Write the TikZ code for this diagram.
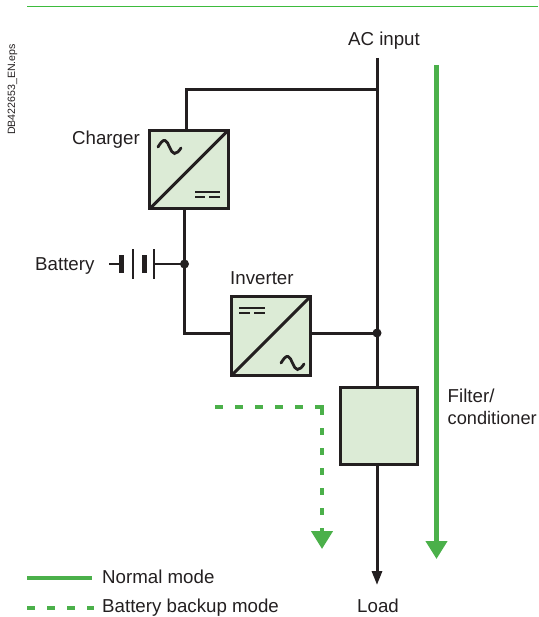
\documentclass[tikz,border=0pt]{standalone}
\usepackage{fontspec}
\setmainfont{Liberation Sans}
\usetikzlibrary{arrows.meta}
\definecolor{sgreen}{HTML}{4BB04A}
\definecolor{srule}{HTML}{3DBB3D}
\definecolor{sfill}{HTML}{DCEBD6}
\definecolor{sink}{HTML}{231F20}
\tikzset{
  conv/.style={draw=sink,fill=sfill,line width=3pt,minimum size=78.5pt,inner sep=0pt,outer sep=0pt},
  wire/.style={draw=sink,line width=3pt},
  sym/.style={draw=sink,line width=2.8pt,line cap=round},
  junction/.style={circle,fill=sink,inner sep=0pt,minimum size=9pt},
  lbl/.style={text=sink,font=\fontsize{18.7}{22}\selectfont,inner sep=0pt,anchor=base west},
  normalflow/.style={draw=sgreen,line width=4.2pt},
  backupflow/.style={draw=sgreen,line width=4.2pt},
  headgreen/.style={-{Triangle[length=18pt,width=21pt,fill=sgreen]}}
}
\begin{document}
\begin{tikzpicture}[x=1pt,y=-1pt]
\useasboundingbox (0,0) rectangle (538,617);
% coordinates
\coordinate (ruleA) at (27,6.3);
\coordinate (ruleB) at (538,6.3);
\coordinate (mainTop) at (377,58);
\coordinate (mainTee) at (377,90);
\coordinate (chgTeeTop) at (186,90);
\coordinate (chgTop) at (186,130);
\coordinate (chgBot) at (184.5,209);
\coordinate (invCorner) at (184.5,333);
\coordinate (invIn) at (231,333);
\coordinate (invOut) at (311,333);
\coordinate (filtTop) at (377,387);
\coordinate (filtBot) at (377,465);
\coordinate (load) at (377,585);
\coordinate (batL) at (109,264);
\coordinate (batR) at (154,264);
\coordinate (batA) at (121.5,255);
\coordinate (batAb) at (121.5,273);
\coordinate (batB) at (133,249);
\coordinate (batBb) at (133,279);
\coordinate (batC) at (144,255);
\coordinate (batCb) at (144,273);
\coordinate (batD) at (154,249);
\coordinate (batDb) at (154,279);
\coordinate (normA) at (436.5,65);
\coordinate (normB) at (436.5,559);
\coordinate (backA) at (215,407);
\coordinate (backC) at (322,407);
\coordinate (backB) at (322,549);
\coordinate (legA) at (27,578);
\coordinate (legB) at (92,578);
\coordinate (legC) at (27,608);
\coordinate (legD) at (94,608);
% top rule
\draw[draw=srule,line width=1.3pt] (ruleA) -- (ruleB);
% wires
\draw[wire] (mainTop) -- (filtTop);
\draw[wire] (mainTee) -- (chgTeeTop) -- (chgTop);
\draw[wire] (chgBot) -- (invCorner) -- (invIn);
\draw[wire] (invOut) -- (377,333);
\draw[wire,-{Triangle[length=14pt,width=10pt]}] (filtBot) -- (load);
\draw[wire,line width=2.4pt] (batL) -- (batA |- batL);
\draw[wire,line width=2.4pt] (batR) -- (184.5,264);
% boxes
\node[conv] (charger) at (189,169.5) {};
\node[conv] (inverter) at (271,336) {};
\node[conv,minimum size=76.5pt] (filter) at (379,426) {};
\draw[wire] (charger.south west) -- (charger.north east);
\draw[wire] (inverter.south west) -- (inverter.north east);
% junctions
\node[junction] (j1) at (184.5,264) {};
\node[junction] (j2) at (377,333) {};
% battery
\draw[draw=sink,line width=5pt] (batA) -- (batAb);
\draw[draw=sink,line width=2.4pt] (batB) -- (batBb);
\draw[draw=sink,line width=5pt] (batC) -- (batCb);
\draw[draw=sink,line width=2.4pt] (batD) -- (batDb);
% AC/DC symbols
\draw[sym] (158,147) .. controls (161,142) and (163,140) .. (165,140.5) .. controls (169,141.5) and (170,153) .. (174.5,153.5) .. controls (177,153.5) and (179,151) .. (181,148);
\draw[sink,line width=2.6pt] (195,192) -- (220,192);
\draw[sink,line width=2.6pt] (195,197) -- (205,197) (209,197) -- (220,197);
\draw[sink,line width=2.6pt] (239,308) -- (265,308);
\draw[sink,line width=2.6pt] (239,313) -- (250,313) (254,313) -- (265,313);
\draw[sym] (281,363) .. controls (284,358) and (286,356) .. (288,356.5) .. controls (292,357.5) and (293,369) .. (297.5,369.5) .. controls (300,369.5) and (302,367) .. (304,364);
% flows
\draw[normalflow,headgreen] (normA) -- (normB);
\draw[backupflow,headgreen,dash pattern=on 8pt off 12pt on 8pt off 12pt on 8pt off 12pt on 8pt off 12pt on 8pt off 12pt on 15pt off 13pt on 7pt off 13pt on 7pt off 13pt on 7pt off 13pt on 7pt off 13pt on 7pt off 13pt on 30pt off 5pt] (backA) -- (backC) -- (backB);
\draw[normalflow] (legA) -- (legB);
\draw[backupflow,dash pattern=on 8pt off 12pt] (legC) -- (legD);
% labels
\node[lbl,anchor=base] (tAC) at (384,45.5) {AC input};
\node[lbl] (tChg) at (72,145) {Charger};
\node[lbl] (tBat) at (35,270) {Battery};
\node[lbl] (tInv) at (230,284) {Inverter};
\node[lbl] (tF1) at (447.5,402) {Filter/};
\node[lbl,font=\fontsize{18.2}{22}\selectfont] (tF2) at (447.5,424) {conditioner};
\node[lbl] (tN) at (102,583) {Normal mode};
\node[lbl] (tB) at (102,612) {Battery backup mode};
\node[lbl,anchor=base] (tL) at (378,612) {Load};
\node[text=sink,font=\fontsize{10.6}{12}\selectfont,inner sep=0pt,anchor=base west,rotate=90] (tId) at (15,135) {DB422653\_EN.eps};
\end{tikzpicture}
\end{document}
